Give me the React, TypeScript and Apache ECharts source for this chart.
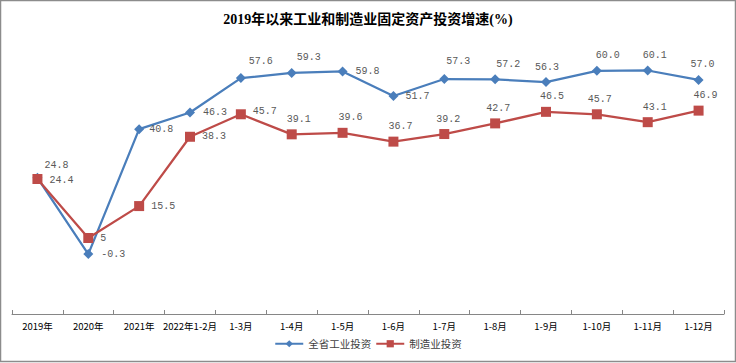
import React, { useEffect, useRef } from "react";
import * as echarts from "echarts";

const categories = ["2019年", "2020年", "2021年", "2022年1-2月", "1-3月", "1-4月", "1-5月", "1-6月", "1-7月", "1-8月", "1-9月", "1-10月", "1-11月", "1-12月"];
const industryValues = [24.8, -0.3, 40.8, 46.3, 57.6, 59.3, 59.8, 51.7, 57.3, 57.2, 56.3, 60.0, 60.1, 57.0];
const industryLabels = ["24.8", "-0.3", "40.8", "46.3", "57.6", "59.3", "59.8", "51.7", "57.3", "57.2", "56.3", "60.0", "60.1", "57.0"];
const manuValues = [24.4, 5, 15.5, 38.3, 45.7, 39.1, 39.6, 36.7, 39.2, 42.7, 46.5, 45.7, 43.1, 46.9];
const manuLabels = ["24.4", "5", "15.5", "38.3", "45.7", "39.1", "39.6", "36.7", "39.2", "42.7", "46.5", "45.7", "43.1", "46.9"];
const seriesNames = ["全省工业投资", "制造业投资"];

// label placement (style only): [position, dx, dy]
const industryLabelPos: [string, number, number][] = [
  ["right", -3, -12], ["right", 3, 0], ["right", 0, 0], ["right", 3, 0], ["top", 20, -2],
  ["top", 17, 0], ["right", 3, 0], ["right", 2, 0], ["top", 14, -3], ["top", 13, 0],
  ["top", 1, 0], ["top", 11, 0], ["top", 7, 0], ["top", 4, 0],
];
const manuLabelPos: [string, number, number][] = [
  ["right", 2, 1], ["right", 2, 0], ["right", 2, 0], ["right", 2, 0], ["right", 2, -3],
  ["top", 7, 0], ["top", 8, 0], ["top", 7, 0], ["top", 4, 0], ["top", 3, 0],
  ["top", 6, 0], ["top", 3, 0], ["top", 7, 0], ["top", 7, 0],
];

const labelFont = {
  fontFamily: "'Liberation Mono', 'DejaVu Sans Mono', monospace",
  fontSize: 10,
  color: "#595959",
};

export default function App() {
  const ref = useRef<HTMLDivElement>(null);
  useEffect(() => {
    if (!ref.current) return;
    const chart = echarts.init(ref.current, null, { renderer: "svg" });
    const mk = (vals: number[], labels: string[], pos: [string, number, number][]) =>
      vals.map((v, i) => ({
        value: v,
        label: {
          show: true,
          position: pos[i][0],
          offset: [pos[i][1], pos[i][2]],
          formatter: labels[i],
          ...labelFont,
        },
      }));
    chart.setOption({
      animation: false,
      backgroundColor: "#ffffff",
      title: {
        text: "2019年以来工业和制造业固定资产投资增速(%)",
        left: "center",
        top: 7,
        textStyle: {
          fontFamily: "'Liberation Serif', 'Noto Sans CJK SC', serif",
          fontSize: 14,
          fontWeight: "bold",
          color: "#000000",
        },
      },
      legend: {
        bottom: 9,
        left: "center",
        itemWidth: 28,
        itemHeight: 9,
        itemGap: 4,
        textStyle: { fontSize: 10.5, color: "#404040", fontFamily: "'Noto Sans CJK SC', sans-serif" },
        data: seriesNames,
      },
      grid: { left: 12, right: 12, top: 10, bottom: 49, containLabel: false },
      xAxis: {
        type: "category",
        data: categories,
        boundaryGap: true,
        axisLine: { onZero: false, lineStyle: { color: "#868686", width: 1 } },
        axisTick: { show: true, inside: true, length: 4, lineStyle: { color: "#868686" } },
        axisLabel: {
          interval: 0,
          fontSize: 9.5,
          color: "#000000",
          margin: 7,
          fontFamily: "'Noto Sans CJK SC', sans-serif",
        },
      },
      yAxis: {
        type: "value",
        min: -20,
        max: 80,
        show: false,
        splitLine: { show: false },
      },
      series: [
        {
          name: seriesNames[0],
          type: "line",
          data: mk(industryValues, industryLabels, industryLabelPos),
          symbol: "diamond",
          symbolSize: 10,
          lineStyle: { color: "#4A7EBB", width: 2.25 },
          itemStyle: { color: "#4A7EBB" },
          z: 3,
        },
        {
          name: seriesNames[1],
          type: "line",
          data: mk(manuValues, manuLabels, manuLabelPos),
          symbol: "rect",
          symbolSize: 10,
          lineStyle: { color: "#BE4B48", width: 2.25 },
          itemStyle: { color: "#BE4B48" },
          z: 4,
        },
      ],
      graphic: [
        {
          type: "rect",
          shape: { x: 0.5, y: 0.5, width: 735, height: 361 },
          style: { fill: "none", stroke: "#8c8c8c", lineWidth: 1.5 },
          silent: true,
        },
      ],
    });
    return () => chart.dispose();
  }, []);
  return (
    <div
      ref={ref}
      style={{ position: "fixed", left: 0, top: 0, width: 736, height: 363 }}
    />
  );
}
